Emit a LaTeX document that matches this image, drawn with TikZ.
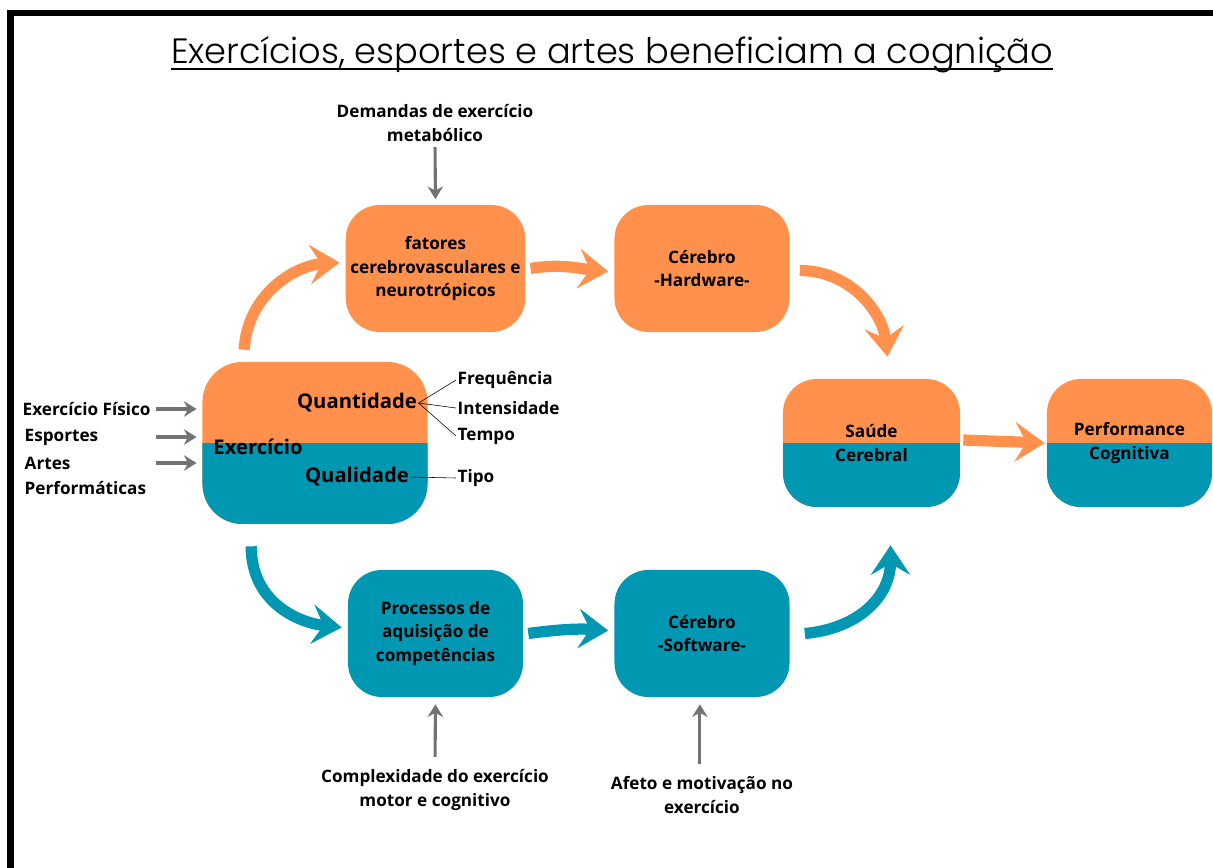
\documentclass[tikz,border=0pt]{standalone}
\usepackage{fontspec}
\setmainfont{Open Sans}
\newfontfamily\titlefont{Poppins Light}
\usepackage{tikz}
\usetikzlibrary{arrows.meta, positioning, calc}

\definecolor{laranja}{HTML}{FF914D}
\definecolor{azul}{HTML}{0097B2}
\definecolor{cinza}{HTML}{737373}

\begin{document}
\begin{tikzpicture}[x=0.025cm, y=-0.025cm,
    caixa/.style={rounded corners=0.85cm, minimum width=4.375cm, minimum height=3.175cm,
                  align=center, font=\fontsize{12.2}{17}\selectfont\bfseries},
    dupla/.style={caixa, fill=laranja,
                  path picture={\fill[azul, sharp corners] (path picture bounding box.west) rectangle (path picture bounding box.south east);}},
    rotulo/.style={font=\fontsize{12.2}{16.5}\selectfont\bfseries, align=center, inner sep=1pt},
    grande/.style={font=\fontsize{14.4}{17}\selectfont\bfseries, inner sep=1pt},
    setagrande/.style={line width=8pt, -{Stealth[length=21pt, width=28pt, inset=8pt]}},
    setacinza/.style={cinza, line width=2.2pt, -{Stealth[length=9pt, width=11pt, inset=3pt]}},
]
\useasboundingbox (0,0) rectangle (1213,868);

% --- Frame and title ---
\draw[line width=4.5pt] (10.5,868) |- (1213,13);
\node[inner sep=0pt, font=\titlefont\fontsize{25}{29}\selectfont] (titulo) at (612,55)
  {Exercícios, esportes e artes beneficiam a cognição};
\draw[line width=1.5pt] ([yshift=-3.5pt]titulo.base west) -- ([yshift=-3.5pt]titulo.base east);

% --- Boxes ---
\node[caixa, fill=laranja] (fat) at (435.5,268.5) {fatores\\cerebrovasculares e\\neurotrópicos};
\node[caixa, fill=laranja] (hw)  at (702,268.5)   {Cérebro\\-Hardware-};
\node[caixa, fill=azul]    (proc) at (435.5,633.5) {Processos de\\aquisição de\\competências};
\node[caixa, fill=azul]    (sw)  at (702,633.5)   {Cérebro\\-Software-};

\node[dupla, minimum width=5.625cm, minimum height=4.05cm, rounded corners=1cm] (exer) at (315,443) {};
\node[dupla, minimum width=4.425cm, minimum height=3.2cm] (sau) at (871.5,443) {Saúde\\Cerebral};
\node[dupla, minimum width=4.125cm, minimum height=3.2cm] (perf) at (1129.5,443) {Performance\\Cognitiva};

% --- Inside the exercise box ---
\node[grande] (quant) at (357,403) {Quantidade};
\node[grande] (exlab) at (258,447) {Exercício};
\node[grande] (qual)  at (357,477) {Qualidade};

\node[rotulo, anchor=west] (freq) at (456,380) {Frequência};
\node[rotulo, anchor=west] (inte) at (456,408) {Intensidade};
\node[rotulo, anchor=west] (tempo) at (456,436) {Tempo};
\node[rotulo, anchor=west] (tipo) at (456,478) {Tipo};

\draw[thin] (quant.east) -- (freq.west);
\draw[thin] (quant.east) -- (inte.west);
\draw[thin] (quant.east) -- (tempo.west);
\draw[thin] (qual.east) -- (tipo.west);

% --- Inputs ---
\node[rotulo, anchor=west] (fis) at (21,409) {Exercício Físico};
\node[rotulo, anchor=west] (esp) at (23,437) {Esportes};
\node[rotulo, anchor=west] (art) at (23,463) {Artes};
\node[rotulo, anchor=west] (perfo) at (23,488) {Performáticas};

\node[rotulo] (dem) at (435,123) {Demandas de exercício\\metabólico};
\node[rotulo] (comp) at (435,790) {Complexidade do exercício\\motor e cognitivo};
\node[rotulo] (afeto) at (702,795) {Afeto e motivação no\\exercício};

% ===================== EDGES =====================

% gray inputs
\draw[setacinza, shorten <=3pt, shorten >=4pt] (dem.south) -- (fat.north);
\draw[setacinza, shorten >=4pt] ([xshift=3pt]fis.east) -- (exer.west |- fis.east);
\draw[setacinza, shorten >=4pt] ([xshift=3pt]fis.east |- esp.east) -- (exer.west |- esp.east);
\draw[setacinza, shorten >=4pt] ([xshift=3pt]fis.east |- art.east) -- (exer.west |- art.east);
\draw[setacinza, shorten <=8pt, shorten >=5pt] (comp.north) -- (proc.south);
\draw[setacinza, shorten <=8pt, shorten >=5pt] ([xshift=-1.5pt]afeto.north) -- ([xshift=-1.5pt]sw.south);

% orange path (hardware)
\draw[setagrande, laranja] ($(exer.north west)+(42,-12)$) .. controls +(3,-55) and +(-45,3) .. ($(fat.west)+(-6,-6)$);
\draw[setagrande, laranja] ($(fat.east)+(5,0)$) .. controls +(30,-5) and +(-30,-3) .. ($(hw.west)+(-6,3)$);
\draw[setagrande, laranja] ($(hw.east)+(10,2)$) .. controls +(50,0) and +(-5,-45) .. ($(sau.north)+(16,-22)$);

% teal path (software)
\draw[setagrande, azul] ($(exer.south west)+(49,22)$) .. controls +(0,55) and +(-45,-5) .. ($(proc.west)+(-6,-6)$);
\draw[setagrande, azul] ($(proc.east)+(5,0)$) .. controls +(30,-4) and +(-30,-2) .. ($(sw.west)+(-6,-3)$);
\draw[setagrande, azul] ($(sw.east)+(15,0)$) .. controls +(55,-5) and +(0,50) .. ($(sau.south)+(19,38)$);

% brain health -> cognitive performance
\draw[setagrande, laranja] ($(sau.east)+(3,-3)$) -- ($(perf.west)+(-2,0)$);

\end{tikzpicture}
\end{document}
